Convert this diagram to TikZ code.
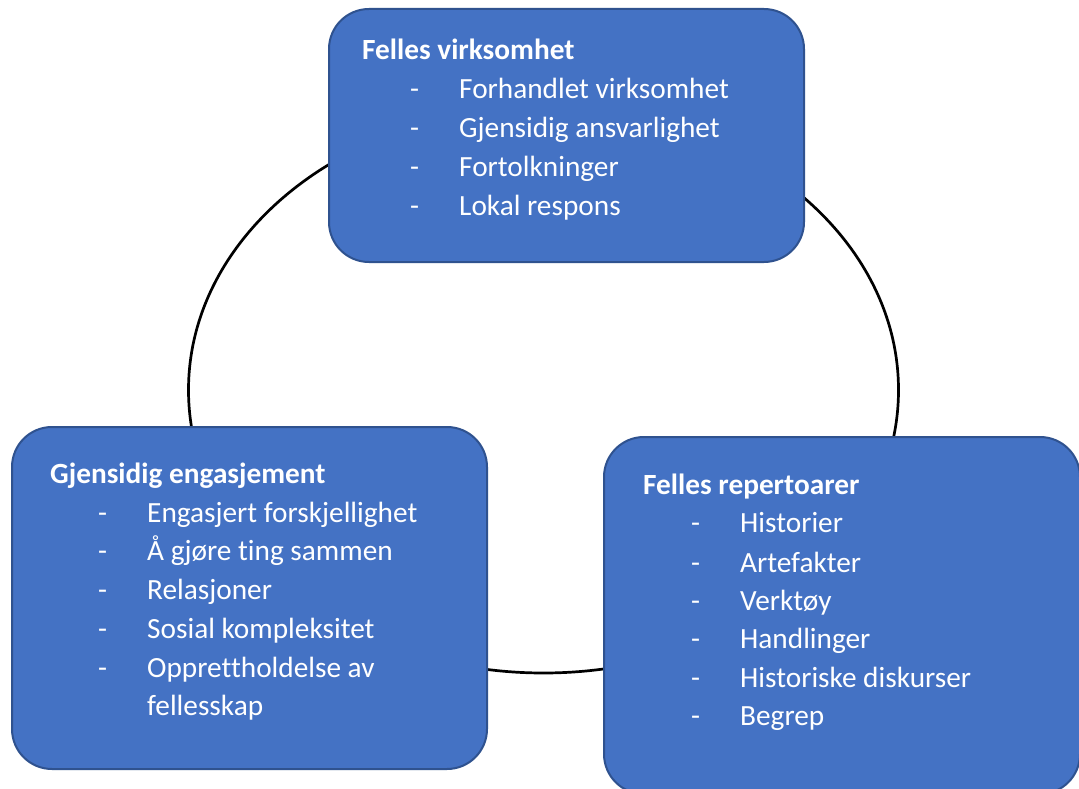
\documentclass[tikz,border=0pt]{standalone}
\usepackage{fontspec}
\setmainfont[Ligatures={NoCommon}]{Carlito}
\usetikzlibrary{shapes.geometric}
\definecolor{boxfill}{HTML}{4472C4}
\definecolor{boxline}{HTML}{2F528F}
\tikzset{
  panel/.style={draw=boxline, line width=2pt, fill=boxfill, rounded corners=40pt},
  head/.style={anchor=base west, inner sep=0pt, text=white, font=\fontsize{29.3}{38}\selectfont\bfseries},
  item/.style={anchor=base west, inner sep=0pt, text=white, font=\fontsize{29.3}{38}\selectfont},
  dashmark/.style={anchor=base west, inner sep=0pt, text=white, font=\fontsize{29.3}{38}\selectfont},
}
\begin{document}
\begin{tikzpicture}[x=1pt,y=-1pt]
\useasboundingbox (0,0) rectangle (1079,789);
\clip (0,0) rectangle (1079,789);
\fill[white] (0,0) rectangle (1079,789);

% cycle behind the three panels
\node[draw=black, line width=2.7pt, ellipse, minimum width=710pt, minimum height=566pt, inner sep=0pt] (cycle) at (543.5,390) {};

% top panel
\draw[panel] (329,9) rectangle (804,262);
\node[head] (t0) at (362,60) {Felles virksomhet};
\foreach \y/\txt [count=\i] in {99/Forhandlet virksomhet, 138/Gjensidig ansvarlighet, 176/Fortolkninger, 215/Lokal respons}{
  \node[dashmark] (td\i) at (410,\y) {-};
  \node[item] (t\i) at (459,\y) {\txt};
}

% left panel
\draw[panel] (12,427) rectangle (487,769);
\node[head] (l0) at (50,483) {Gjensidig engasjement};
\foreach \y/\txt [count=\i] in {522/Engasjert forskjellighet, 560/Å gjøre ting sammen, 599/Relasjoner, 638/Sosial kompleksitet, 677/Opprettholdelse av}{
  \node[dashmark] (ld\i) at (98,\y) {-};
  \node[item] (l\i) at (147,\y) {\txt};
}
\node[item] (l6) at (147,715) {fellesskap};

% right panel
\draw[panel] (604,437) rectangle (1080,794);
\node[head] (r0) at (643,494) {Felles repertoarer};
\foreach \y/\txt [count=\i] in {532/Historier, 572/Artefakter, 610/Verktøy, 648/Handlinger, 687/Historiske diskurser, 725/Begrep}{
  \node[dashmark] (rd\i) at (691,\y) {-};
  \node[item] (r\i) at (740,\y) {\txt};
}
\end{tikzpicture}
\end{document}
